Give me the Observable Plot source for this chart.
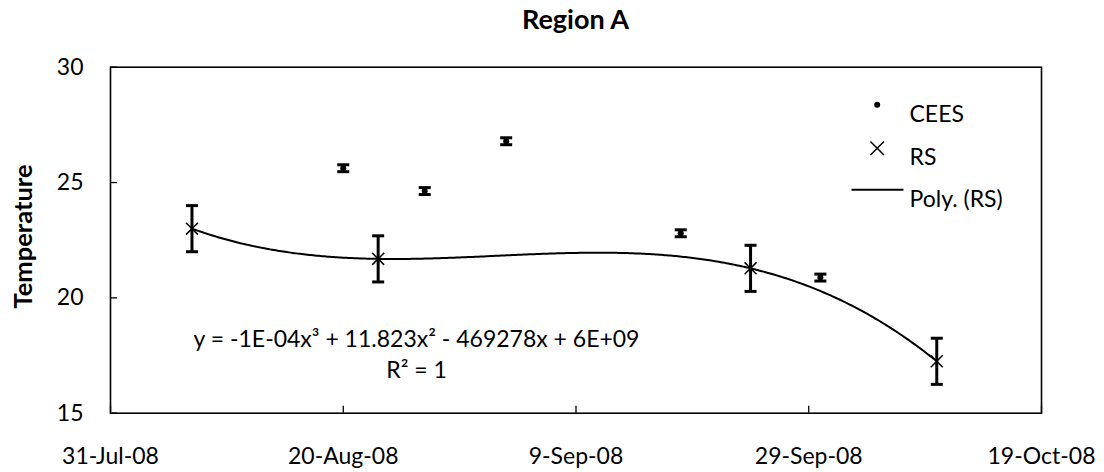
<!DOCTYPE html>
<html>
<head>
<meta charset="utf-8">
<script src="https://cdn.jsdelivr.net/npm/d3@7"></script>
<script src="https://cdn.jsdelivr.net/npm/@observablehq/plot@0.6"></script>
<style>
  body { margin: 0; background: #fff; font-family: Lato, sans-serif; }
  #title { margin-left: 110px; width: 931px; height: 43px; padding-top: 5px; text-align: center;
           font: bold 27px/27px Lato, sans-serif; color: #000; }
</style>
</head>
<body>
<div id="title">Region A</div>
<div id="chart"></div>
<script>
// ---- data ----
const xTickDates = ["2008-07-31", "2008-08-20", "2008-09-09", "2008-09-29", "2008-10-19"];
const yTickValues = [15, 20, 25, 30];

const ceesDates = ["2008-08-20", "2008-08-27", "2008-09-03", "2008-09-18", "2008-09-30"];
const ceesValues = [25.62, 24.63, 26.79, 22.8, 20.88];
const ceesErrors = [0.15, 0.15, 0.15, 0.15, 0.15];

const rsDates = ["2008-08-07", "2008-08-23", "2008-09-24", "2008-10-10"];
const rsValues = [23.0, 21.69, 21.28, 17.25];
const rsErrors = [1, 1, 1, 1];

const legendLabels = ["CEES", "RS", "Poly. (RS)"];
const equationText = "y = -1E-04x³ + 11.823x² - 469278x + 6E+09";
const r2Text = "R² = 1";

// ---- build tables ----
const parse = d3.utcParse("%Y-%m-%d");
const xTicks = xTickDates.map(parse);
const cees = ceesDates.map((d, i) => ({date: parse(d), v: ceesValues[i], e: ceesErrors[i]}));
const rs = rsDates.map((d, i) => ({date: parse(d), v: rsValues[i], e: rsErrors[i]}));

// cubic polynomial trendline through RS (degree-3 fit on 4 points = exact fit)
const DAY = 864e5;
const t0 = +rs[0].date;
const px = rs.map(d => (+d.date - t0) / DAY);
const py = rs.map(d => d.v);
function poly(t) {
  let s = 0;
  for (let i = 0; i < px.length; i++) {
    let l = 1;
    for (let j = 0; j < px.length; j++) if (j !== i) l *= (t - px[j]) / (px[i] - px[j]);
    s += py[i] * l;
  }
  return s;
}
const trend = [];
const tEnd = px[px.length - 1];
for (let k = 0; k <= 400; k++) {
  const t = tEnd * k / 400;
  trend.push({date: new Date(t0 + t * DAY), v: poly(t)});
}

// ---- styles ----
const W = 1104, H = 424;
const mL = 110, mR = 63, mT = 18.7, mB = 59.3;
const innerW = W - mL - mR, innerH = H - mT - mB;
const cap = {draw(ctx) { ctx.moveTo(-6, 0); ctx.lineTo(6, 0); }};
const legendLine = {draw(ctx) { ctx.moveTo(-26, 0); ctx.lineTo(26, 0); }};
const fmt = d3.utcFormat("%-d-%b-%y");
const FS = 23;

const chart = Plot.plot({
  width: W, height: H,
  marginLeft: mL, marginRight: mR, marginTop: mT, marginBottom: mB,
  style: {fontFamily: "Lato, sans-serif", fontSize: FS + "px", color: "#000", background: "#fff"},
  x: {type: "utc", domain: [xTicks[0], xTicks[xTicks.length - 1]]},
  y: {domain: [15, 30]},
  marks: [
    Plot.frame({stroke: "#000", strokeWidth: 1.6}),
    Plot.ruleX(xTicks, {insetTop: innerH - 7, stroke: "#000", strokeWidth: 1.3}),
    Plot.ruleY(yTickValues, {insetRight: innerW - 7, stroke: "#000", strokeWidth: 1.3}),
    Plot.axisX({ticks: xTicks, tickSize: 0, tickPadding: 34, tickFormat: fmt, label: null, fontSize: FS}),
    Plot.axisY({ticks: yTickValues, tickSize: 0, tickPadding: 27, label: null, fontSize: FS}),
    Plot.text(["Temperature"], {frameAnchor: "left", textAnchor: "middle", dx: -87, dy: -3.7, rotate: -90, fontWeight: "bold", fontSize: 25.5}),
    // trendline
    Plot.line(trend, {x: "date", y: "v", stroke: "#000", strokeWidth: 2}),
    // CEES error bars + dots
    Plot.ruleX(cees, {x: "date", y1: d => d.v - d.e, y2: d => d.v + d.e, stroke: "#000", strokeWidth: 3}),
    Plot.dot(cees, {x: "date", y: d => d.v - d.e, symbol: cap, stroke: "#000", strokeWidth: 3}),
    Plot.dot(cees, {x: "date", y: d => d.v + d.e, symbol: cap, stroke: "#000", strokeWidth: 3}),
    Plot.dot(cees, {x: "date", y: "v", r: 3, fill: "#000"}),
    // RS error bars + markers
    Plot.ruleX(rs, {x: "date", y1: d => d.v - d.e, y2: d => d.v + d.e, stroke: "#000", strokeWidth: 3}),
    Plot.dot(rs, {x: "date", y: d => d.v - d.e, symbol: cap, stroke: "#000", strokeWidth: 3}),
    Plot.dot(rs, {x: "date", y: d => d.v + d.e, symbol: cap, stroke: "#000", strokeWidth: 3}),
    Plot.dot(rs, {x: "date", y: "v", symbol: "times", r: 5.5, stroke: "#000", strokeWidth: 1.5}),
    // equation
    Plot.text([equationText], {frameAnchor: "top-left", dx: 306, dy: 263.6, textAnchor: "middle", fontSize: FS}),
    Plot.text([r2Text], {frameAnchor: "top-left", dx: 306, dy: 294.6, textAnchor: "middle", fontSize: FS}),
    // legend
    Plot.dot([0], {frameAnchor: "top-left", dx: 766.7, dy: 37.6, r: 3, fill: "#000"}),
    Plot.dot([0], {frameAnchor: "top-left", dx: 766.7, dy: 81, symbol: "times", r: 6.2, stroke: "#000", strokeWidth: 1.5}),
    Plot.dot([0], {frameAnchor: "top-left", dx: 767, dy: 122.6, symbol: legendLine, stroke: "#000", strokeWidth: 2}),
    Plot.text([legendLabels[0]], {frameAnchor: "top-left", dx: 799, dy: 38, textAnchor: "start", fontSize: FS}),
    Plot.text([legendLabels[1]], {frameAnchor: "top-left", dx: 799, dy: 81, textAnchor: "start", fontSize: FS}),
    Plot.text([legendLabels[2]], {frameAnchor: "top-left", dx: 799, dy: 123, textAnchor: "start", fontSize: FS})
  ]
});
document.getElementById("chart").appendChild(chart);
</script>
</body>
</html>
